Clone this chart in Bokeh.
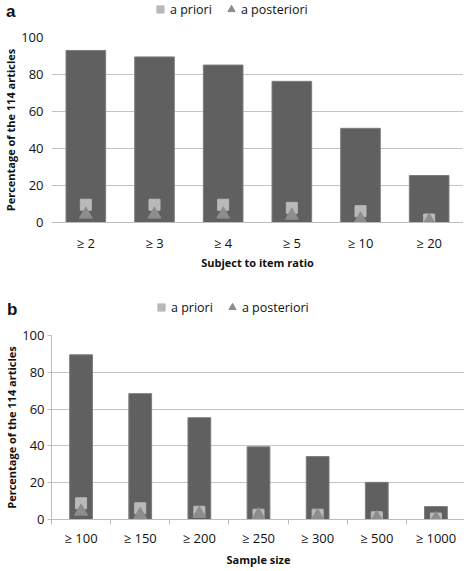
from bokeh.plotting import figure
from bokeh.models import (ColumnDataSource, Legend, LegendItem,
                          FixedTicker, Range1d, FactorRange)
from bokeh.layouts import column
from bokeh.embed import file_html
from bokeh.resources import INLINE

# ---- data -----------------------------------------------------------
ratio_cats = ["≥ 2", "≥ 3", "≥ 4", "≥ 5", "≥ 10", "≥ 20"]
ratio_total = [93.0, 89.5, 85.1, 76.3, 50.9, 25.4]
ratio_priori = [9.6, 9.6, 9.6, 7.9, 6.1, 1.6]
ratio_posteriori = [4.4, 4.4, 4.4, 3.8, 1.8, 0.9]

size_cats = ["≥ 100", "≥ 150", "≥ 200", "≥ 250", "≥ 300", "≥ 500", "≥ 1000"]
size_total = [89.5, 68.4, 55.3, 39.5, 34.2, 20.2, 7.0]
size_priori = [8.8, 6.1, 4.2, 2.6, 2.6, 1.2, 0.5]
size_posteriori = [4.4, 2.6, 3.2, 2.4, 1.8, 0.9, 0.4]

y_ticks = [0, 20, 40, 60, 80, 100]
y_label = "Percentage of the 114 articles"
legend_labels = ["a priori", "a posteriori"]
panel_letters = ["a", "b"]

# ---- style ----------------------------------------------------------
BAR = "#606060"
BAR_LINE = "#7c7c7c"
SQ = "#b9b9b9"
TRI = "#8d8d8d"
GRID = "#c4c4c4"
AXIS = "#bdbdbd"
FONT = "Open Sans"
TXT = "#111111"


def style_common(p):
    p.background_fill_color = "white"
    p.border_fill_color = "white"
    p.outline_line_color = None
    p.xgrid.grid_line_color = None
    p.ygrid.grid_line_color = GRID
    p.ygrid.grid_line_width = 1
    p.yaxis.ticker = FixedTicker(ticks=y_ticks)
    for ax in (p.xaxis[0], p.yaxis[0]):
        ax.major_label_text_font = FONT
        ax.major_label_text_font_size = "13px"
        ax.major_label_text_color = TXT
        ax.axis_label_text_font = FONT
        ax.axis_label_text_font_size = "11px"
        ax.axis_label_text_font_style = "bold"
        ax.axis_label_text_color = TXT
    p.yaxis.axis_label = y_label
    p.yaxis.axis_label_standoff = 0


def header(h, left, fw, letter, letter_y, legend_x, legend_top):
    """Strip above a panel: panel letter (as the strip's only y tick label)
    and the legend, with the same left border and frame width as the panel."""
    hp = figure(frame_width=fw, frame_height=h,
                x_range=Range1d(0, fw), y_range=Range1d(0, h),
                min_border_left=left, min_border_right=0,
                min_border_top=0, min_border_bottom=0,
                x_axis_location=None, toolbar_location=None,
                output_backend="svg")
    hp.outline_line_color = None
    hp.grid.grid_line_color = None
    hp.background_fill_color = "white"
    hp.border_fill_color = "white"
    ax = hp.yaxis[0]
    ax.ticker = FixedTicker(ticks=[letter_y])
    ax.major_label_overrides = {letter_y: letter}
    ax.major_label_text_font = "Liberation Sans"
    ax.major_label_text_font_style = "bold"
    ax.major_label_text_font_size = "17px"
    ax.major_label_text_color = TXT
    ax.axis_line_color = None
    ax.major_tick_line_color = None
    ax.minor_tick_line_color = None
    ax.major_tick_out = 0
    ax.major_tick_in = 0
    ax.minor_tick_out = 0
    ax.major_label_standoff = left - 10
    # legend-only renderers (their single point lies outside the view)
    r_sq = hp.scatter(x=[-1000], y=[-1000], marker="square", size=8,
                      fill_color=SQ, line_color=SQ)
    r_tri = hp.scatter(x=[-1000], y=[-1000], marker="triangle", size=9,
                       fill_color=TRI, line_color=TRI)
    items = [LegendItem(label=legend_labels[0], renderers=[r_sq], index=0),
             LegendItem(label=legend_labels[1], renderers=[r_tri], index=0)]
    lg = Legend(items=items, orientation="horizontal",
                location=(legend_x, h - legend_top - 18),
                glyph_width=18, glyph_height=18, label_height=16,
                label_standoff=1, spacing=10, padding=0, margin=0,
                border_line_color=None, background_fill_alpha=0,
                label_text_font=FONT, label_text_font_size="12.5px",
                label_text_color=TXT)
    hp.add_layout(lg)
    return hp


# ---- panel a --------------------------------------------------------
LEFT_A, FW_A = 46, 412
ha = header(29, LEFT_A, FW_A, panel_letters[0], 21, 103, 0)
pa = figure(x_range=FactorRange(*ratio_cats, range_padding=0),
            y_range=Range1d(0, 100),
            frame_width=FW_A, frame_height=185,
            min_border_left=LEFT_A, min_border_right=0,
            min_border_top=8, min_border_bottom=66,
            toolbar_location=None, output_backend="svg")
src_a = ColumnDataSource(dict(cat=ratio_cats, total=ratio_total,
                              pri=ratio_priori, post=ratio_posteriori))
pa.vbar(x="cat", top="total", bottom=0, width=0.577, source=src_a,
        fill_color=BAR, line_color=BAR_LINE, line_width=1)
pa.scatter(x="cat", y="pri", source=src_a, marker="square",
           size=11, fill_color=SQ, line_color=SQ)
pa.scatter(x="cat", y="post", source=src_a, marker="triangle",
           size=13, fill_color=TRI, line_color=TRI)
style_common(pa)
pa.xaxis.axis_label = "Subject to item ratio"
pa.xaxis.axis_line_color = AXIS
pa.xaxis.major_tick_line_color = None
pa.xaxis.major_tick_out = 0
pa.xaxis.major_tick_in = 0
pa.xaxis.major_label_standoff = 11
pa.xaxis.axis_label_standoff = 0
pa.yaxis.axis_line_color = None
pa.yaxis.major_tick_line_color = None
pa.yaxis.major_tick_out = 0
pa.yaxis.major_tick_in = 0
pa.yaxis.minor_tick_line_color = None
pa.yaxis.minor_tick_out = 0
pa.yaxis.major_label_standoff = 8

# ---- panel b --------------------------------------------------------
LEFT_B, FW_B = 44, 414
hb = header(39, LEFT_B, FW_B, panel_letters[1], 18, 105, 10)
xs_b = list(range(1, len(size_cats) + 1))
pb = figure(x_range=Range1d(0.5, len(size_cats) + 0.5),
            y_range=Range1d(0, 100),
            frame_width=FW_B, frame_height=184,
            min_border_left=LEFT_B, min_border_right=0,
            min_border_top=8, min_border_bottom=44,
            toolbar_location=None, output_backend="svg")
src_b = ColumnDataSource(dict(x=xs_b, total=size_total,
                              pri=size_priori, post=size_posteriori))
pb.vbar(x="x", top="total", bottom=0, width=0.385, source=src_b,
        fill_color=BAR, line_color=BAR_LINE, line_width=1)
pb.scatter(x="x", y="pri", source=src_b, marker="square",
           size=11, fill_color=SQ, line_color=SQ)
pb.scatter(x="x", y="post", source=src_b, marker="triangle",
           size=13, fill_color=TRI, line_color=TRI)
style_common(pb)
pb.xaxis.axis_label = "Sample size"
pb.xaxis.ticker = FixedTicker(ticks=xs_b,
                              minor_ticks=[v - 0.5 for v in xs_b] + [xs_b[-1] + 0.5])
pb.xaxis.major_label_overrides = {v: c for v, c in zip(xs_b, size_cats)}
pb.xaxis.axis_line_color = AXIS
pb.xaxis.major_tick_line_color = None
pb.xaxis.major_tick_out = 0
pb.xaxis.major_tick_in = 0
pb.xaxis.minor_tick_line_color = AXIS
pb.xaxis.minor_tick_in = 0
pb.xaxis.minor_tick_out = 5
pb.xaxis.major_label_standoff = 4
pb.xaxis.axis_label_standoff = 2
pb.yaxis.axis_line_color = AXIS
pb.yaxis.major_tick_line_color = AXIS
pb.yaxis.major_tick_in = 0
pb.yaxis.major_tick_out = 4
pb.yaxis.minor_tick_line_color = None
pb.yaxis.minor_tick_out = 0
pb.yaxis.major_label_standoff = 3

layout = column(ha, pa, hb, pb, spacing=0)
open("out.html", "w").write(file_html(layout, INLINE))
